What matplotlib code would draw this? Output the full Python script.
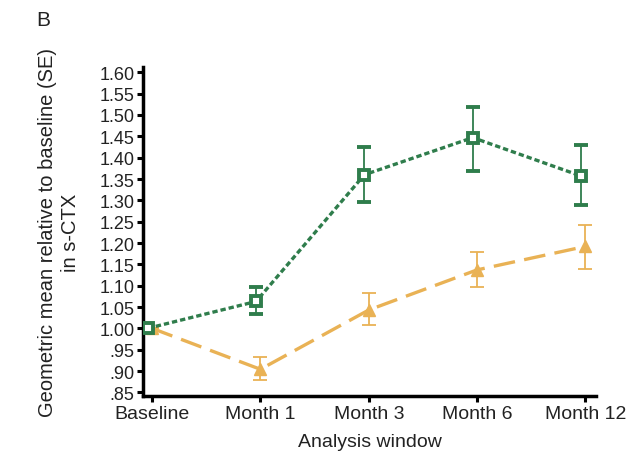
import matplotlib
matplotlib.use("Agg")
import matplotlib.pyplot as plt
import numpy as np

plt.rcParams['font.family'] = ['Liberation Sans', 'DejaVu Sans']

windows = ["Baseline", "Month 1", "Month 3", "Month 6", "Month 12"]

green_mean = [1.00, 1.063, 1.36, 1.447, 1.357]
green_low = [1.00, 1.033, 1.296, 1.368, 1.288]
green_high = [1.00, 1.097, 1.424, 1.518, 1.429]

orange_mean = [1.00, 0.904, 1.043, 1.137, 1.192]
orange_low = [1.00, 0.878, 1.009, 1.098, 1.138]
orange_high = [1.00, 0.932, 1.082, 1.180, 1.242]

yticks = [0.85, 0.90, 0.95, 1.00, 1.05, 1.10, 1.15, 1.20, 1.25, 1.30,
          1.35, 1.40, 1.45, 1.50, 1.55, 1.60]
ytick_labels = [".85", ".90", ".95", "1.00", "1.05", "1.10", "1.15", "1.20",
                "1.25", "1.30", "1.35", "1.40", "1.45", "1.50", "1.55", "1.60"]

GREEN = "#2f7d4c"
ORANGE = "#e9b255"

fig = plt.figure(figsize=(6.33, 4.64), dpi=100)
ax = fig.add_axes([0.226, 0.144, 0.716, 0.709])

x = np.arange(len(windows))
xg = x - 0.04

g_err = [np.array(green_mean) - np.array(green_low),
         np.array(green_high) - np.array(green_mean)]
o_err = [np.array(orange_mean) - np.array(orange_low),
         np.array(orange_high) - np.array(orange_mean)]

ax.errorbar(x, orange_mean, yerr=o_err, color=ORANGE, lw=2.4,
            dashes=(6.5, 2.8), marker='^', ms=8, mfc=ORANGE, mec=ORANGE,
            ecolor=ORANGE, elinewidth=1.3, capsize=5, capthick=1.3, zorder=3)
ax.errorbar(xg, green_mean, yerr=g_err, color=GREEN, lw=2.4,
            dashes=(1.6, 0.9), marker='s', ms=6.5, mfc='white', mec=GREEN,
            mew=2.8, ecolor=GREEN, elinewidth=1.3, capsize=5, capthick=1.3,
            zorder=4)

ax.set_xlim(-0.083, 4.1)
ax.set_ylim(0.841, 1.612)
ax.set_xticks(x)
ax.set_xticklabels(windows, fontsize=14, color="#222222")
ax.set_yticks(yticks)
ax.set_yticklabels(ytick_labels, fontsize=13, color="#222222")

for side in ["top", "right"]:
    ax.spines[side].set_visible(False)
for side in ["left", "bottom"]:
    ax.spines[side].set_linewidth(2.5)
ax.tick_params(axis='both', direction='out', length=4, width=2.2, pad=2)

ax.set_xlabel("Analysis window", fontsize=14, color="#222222", labelpad=8)
ax.set_ylabel("Geometric mean relative to baseline (SE)\nin s-CTX",
              fontsize=14.5, color="#222222", labelpad=14, linespacing=1.3)

fig.text(0.057, 0.955, "B", fontsize=15, color="#222222", va="center")

fig.savefig("out.png", dpi=100)
